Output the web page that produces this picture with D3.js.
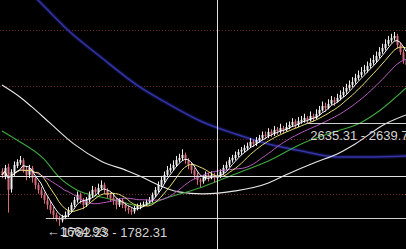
<!DOCTYPE html>
<meta charset="utf-8">
<style>

html, body {
  margin: 0;
  padding: 0;
  background: #000;
}

svg {
  display: block;
}

.grid line {
  stroke: #6a2c2c;
  stroke-width: 1px;
  stroke-dasharray: 1,2;
}

.label {
  font: 13px "Liberation Sans", Arial, sans-serif;
  fill: #d4d4d4;
}

</style>
<svg class="chart"></svg>
<script src="https://d3js.org/d3.v7.min.js"></script>
<script>

var width = 406;
var height = 249;

var opens = [2200,2160,2240,2040,2190,2250,2280,2300,2220,2170,2230,2140,2080,2030,1990,1940,1900,1850,1810,1780,
  1760,1790,1810,1850,1900,1940,1990,1940,1900,1940,1990,2040,2010,2050,2080,2030,1990,1960,1940,1900,
  1940,1900,1870,1850,1840,1870,1890,1900,1910,1930,1940,1990,2030,2080,2120,2170,2210,2230,2260,2300,
  2320,2350,2300,2260,2210,2170,2120,2110,2140,2170,2150,2170,2140,2160,2190,2230,2260,2300,2320,2350,
  2380,2390,2410,2430,2470,2450,2480,2500,2530,2520,2560,2540,2580,2560,2590,2570,2600,2620,2650,2620,
  2650,2660,2680,2660,2700,2680,2720,2750,2790,2770,2810,2840,2830,2860,2890,2920,2950,2980,3010,3040,
  3070,3100,3110,3150,3180,3200,3240,3280,3310,3350,3380,3400,3420,3340,3270,3200];

var highs = [2230,2260,2270,2220,2290,2310,2340,2320,2250,2260,2250,2160,2100,2060,2010,1970,1930,1880,1830,1800,
  1810,1840,1880,1920,1970,2020,2010,1960,1970,2020,2070,2060,2090,2120,2100,2050,2010,1990,1960,1960,
  1960,1920,1890,1870,1890,1910,1920,1930,1950,1970,2010,2060,2110,2160,2200,2250,2270,2300,2340,2360,
  2400,2370,2320,2280,2230,2190,2140,2170,2200,2190,2200,2190,2180,2220,2260,2290,2330,2350,2380,2400,
  2420,2440,2460,2500,2490,2510,2530,2560,2560,2590,2580,2610,2600,2630,2610,2640,2650,2680,2670,2690,
  2700,2720,2700,2740,2720,2760,2790,2830,2820,2850,2880,2870,2900,2930,2960,2990,3020,3050,3080,3110,
  3140,3160,3190,3220,3250,3280,3320,3350,3390,3420,3440,3456,3440,3360,3300,3220];

var lows = [2140,2130,1830,2010,2160,2230,2260,2190,2120,2140,2100,2040,2000,1960,1910,1860,1820,1780,1750,1710,
  1740,1770,1790,1830,1880,1920,1910,1860,1880,1920,1970,1980,1990,2030,2000,1960,1930,1900,1860,1880,
  1870,1840,1820,1810,1820,1850,1860,1880,1890,1910,1920,1970,2010,2060,2100,2150,2190,2210,2240,2280,
  2300,2270,2220,2180,2130,2080,2060,2090,2120,2110,2130,2100,2120,2140,2170,2210,2240,2280,2300,2330,
  2350,2370,2390,2410,2420,2430,2460,2480,2490,2500,2510,2520,2530,2540,2540,2560,2580,2600,2590,2600,
  2630,2640,2630,2650,2650,2670,2700,2740,2740,2760,2800,2790,2820,2840,2870,2900,2930,2960,2990,3020,
  3050,3080,3090,3130,3160,3180,3220,3260,3290,3330,3360,3380,3310,3250,3170,3100];

var closes = [2169,2232,2034,2196,2259,2286,2304,2214,2169,2232,2142,2079,2034,1989,1944,1899,1854,1809,1782,1764,
  1791,1809,1854,1899,1944,1989,1944,1899,1944,1989,2034,2016,2052,2079,2034,1989,1962,1944,1899,1944,
  1899,1872,1854,1836,1872,1890,1899,1908,1926,1944,1989,2034,2079,2124,2169,2214,2232,2259,2304,2322,
  2349,2304,2259,2214,2169,2124,2106,2142,2169,2151,2169,2142,2160,2196,2232,2259,2304,2322,2349,2376,
  2394,2412,2430,2466,2448,2484,2502,2529,2520,2556,2538,2574,2565,2592,2574,2601,2619,2646,2619,2655,
  2664,2682,2664,2700,2682,2718,2754,2790,2772,2808,2844,2826,2862,2889,2916,2952,2979,3006,3042,3069,
  3096,3114,3150,3177,3204,3240,3276,3312,3348,3384,3402,3420,3339,3276,3204,3159];

// long averages at a few bars
var ma60Bars = [0,5,14,19,25,33,39,46,55,67,78,89,100,112,119,126,135];
var ma60Vals = [2565,2484,2313,2151,2034,1971,1935,1890,1962,2061,2178,2295,2448,2565,2628,2745,2952];

var ma120Bars = [0,6,10,16,24,33,42,46,53,59,67,78,89,94,105,112,118,128,135];
var ma120Vals = [2979,2871,2781,2637,2448,2295,2205,2160,2070,2016,1998,2025,2097,2160,2286,2358,2448,2628,2709];

var ma250Bars = [3,12,22,33,46,55,67,78,89,100,112,122,135];
var ma250Vals = [3969,3744,3474,3231,2961,2817,2646,2538,2448,2385,2331,2331,2340];

var gridPrices = [1998, 2493, 2970, 3474];

var rangeLow = [1782.23, 1782.31];
var rangeHigh = [2635.31, 2639.78];
var lowestLabel = '1664.93';
var crossBar = 72;

var svg = d3.select('svg.chart')
  .attr('width', width)
  .attr('height', height)
  .style('background', '#000');

var x = d3.scaleBand()
  .domain(d3.range(closes.length))
  .range([0, 408])
  .padding(0.3);

var y = d3.scaleLinear()
  .domain([1520, 3744])
  .range([247, 0]);

function cx (i) { return x(i) + x.bandwidth() / 2; }

svg.append('clipPath').attr('id', 'clip')
  .append('rect').attr('width', width).attr('height', height);

var plot = svg.append('g').attr('clip-path', 'url(#clip)');

// dotted grid
plot.append('g')
    .attr('class', 'grid')
  .selectAll('line')
  .data(gridPrices)
  .enter().append('line')
    .attr('x1', 0)
    .attr('x2', width)
    .attr('y1', function (d) { return Math.round(y(d)) + 0.5; })
    .attr('y2', function (d) { return Math.round(y(d)) + 0.5; });

var line = d3.line()
  .x(function (d) { return cx(d[0]); })
  .y(function (d) { return y(d[1]); });

var smooth = d3.line()
  .curve(d3.curveMonotoneX)
  .x(function (d) { return cx(d[0]); })
  .y(function (d) { return y(d[1]); });

function zipPts (bars, vals) {
  return bars.map(function (b, i) { return [b, vals[i]]; });
}

function ma (n) {
  return closes.map(function (c, i) {
    return [i, d3.mean(closes.slice(Math.max(0, i - n + 1), i + 1))];
  });
}

// blue MA250, slightly blurred
plot.append('path')
  .attr('d', smooth(zipPts(ma250Bars, ma250Vals)))
  .attr('fill', 'none')
  .attr('stroke', '#1c1c70')
  .attr('stroke-opacity', 0.45)
  .attr('stroke-width', 4);
plot.append('path')
  .attr('d', smooth(zipPts(ma250Bars, ma250Vals)))
  .attr('fill', 'none')
  .attr('stroke', '#3434a8')
  .attr('stroke-width', 1.5);

plot.append('path')
  .attr('d', smooth(zipPts(ma120Bars, ma120Vals)))
  .attr('fill', 'none')
  .attr('stroke', '#e6e6e6')
  .attr('stroke-width', 1.1);

plot.append('path')
  .attr('d', smooth(zipPts(ma60Bars, ma60Vals)))
  .attr('fill', 'none')
  .attr('stroke', '#3fa83f')
  .attr('stroke-width', 1.1);

// candles
var candle = plot.append('g')
  .selectAll('g')
  .data(closes)
  .enter().append('g');

function candleColor (d, i) { return closes[i] >= opens[i] ? '#eeeeee' : '#d86c7c'; }

candle.append('line')
  .attr('x1', function (d, i) { return Math.round(cx(i)) + 0.5; })
  .attr('x2', function (d, i) { return Math.round(cx(i)) + 0.5; })
  .attr('y1', function (d, i) { return y(highs[i]); })
  .attr('y2', function (d, i) { return y(lows[i]); })
  .attr('stroke', candleColor)
  .attr('stroke-width', 1);

candle.append('rect')
  .attr('x', function (d, i) { return Math.round(cx(i)) - 0.5; })
  .attr('width', 2)
  .attr('y', function (d, i) { return y(Math.max(opens[i], closes[i])); })
  .attr('height', function (d, i) { return Math.max(1, Math.abs(y(opens[i]) - y(closes[i]))); })
  .attr('fill', candleColor);

// short moving averages
[[20, '#b85cc0'], [10, '#e8e070'], [5, '#ffffff']].forEach(function (m) {
  plot.append('path')
    .attr('d', line(ma(m[0])))
    .attr('fill', 'none')
    .attr('stroke', m[1])
    .attr('stroke-width', 1);
});

// price range markers
var lowY = Math.round(y(d3.mean(rangeLow))) + 0.5;
var highY = Math.round(y(d3.mean(rangeHigh))) + 0.5;

plot.append('line')
  .attr('x1', x(15)).attr('x2', width)
  .attr('y1', lowY).attr('y2', lowY)
  .attr('stroke', '#d0d0d0');

plot.append('line')
  .attr('x1', x(102)).attr('x2', width)
  .attr('y1', highY).attr('y2', highY)
  .attr('stroke', '#d0d0d0');

plot.append('text')
  .attr('class', 'label')
  .attr('x', x(102) + 4)
  .attr('y', highY + 16)
  .text(rangeHigh[0].toFixed(2) + ' - ' + rangeHigh[1].toFixed(2));

plot.append('text')
  .attr('class', 'label')
  .attr('x', x(20) + 1)
  .attr('y', lowY + 18)
  .text(rangeLow[0].toFixed(2) + ' - ' + rangeLow[1].toFixed(2));

var lowBar = d3.minIndex(lows);
plot.append('text')
  .attr('class', 'label')
  .attr('x', cx(lowBar) - 12)
  .attr('y', y(lows[lowBar]) + 10)
  .text('\u2190' + lowestLabel);

// crosshair
var crossX = Math.round(cx(crossBar)) + 0.5;
var crossY = Math.round(y(closes[crossBar])) + 0.5;

plot.append('line')
  .attr('x1', crossX).attr('x2', crossX)
  .attr('y1', 0).attr('y2', height)
  .attr('stroke', '#e0e0e0');

plot.append('line')
  .attr('x1', 0).attr('x2', width)
  .attr('y1', crossY).attr('y2', crossY)
  .attr('stroke', '#e0e0e0');

</script>
